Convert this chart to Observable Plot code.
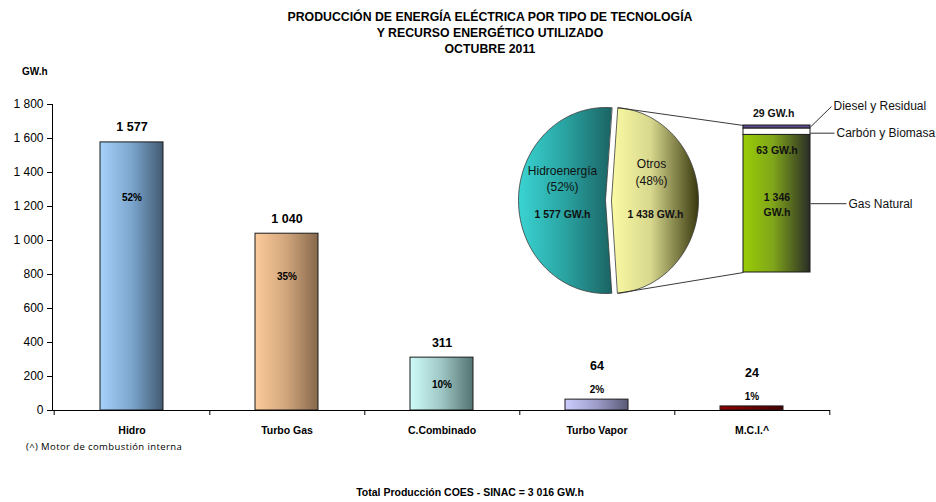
<!DOCTYPE html>
<html><head><meta charset="utf-8">
<script src="https://cdn.jsdelivr.net/npm/d3@7"></script>
<script src="https://cdn.jsdelivr.net/npm/@observablehq/plot@0.6"></script>
<style>
body{margin:0;background:#fff;font-family:"Liberation Sans",Arial,sans-serif;color:#000;}
#wrap{position:relative;width:936px;height:502px;overflow:hidden;background:#fff;}
.abs{position:absolute;white-space:nowrap;}
#wrap > svg{position:absolute;left:0;top:0;}
</style></head><body>
<div id="wrap">
<svg id="defs" width="0" height="0" style="position:absolute;left:0;top:0">
<defs>
<linearGradient id="g0" x1="0" x2="1" y1="0" y2="0"><stop offset="0" stop-color="#a6d1fa"/><stop offset="0.5" stop-color="#7ca6ce"/><stop offset="1" stop-color="#425a72"/></linearGradient>
<linearGradient id="g1" x1="0" x2="1" y1="0" y2="0"><stop offset="0" stop-color="#fdcb9b"/><stop offset="0.5" stop-color="#d1a57c"/><stop offset="1" stop-color="#86684c"/></linearGradient>
<linearGradient id="g2" x1="0" x2="1" y1="0" y2="0"><stop offset="0" stop-color="#cdfcf9"/><stop offset="0.5" stop-color="#9ec6c4"/><stop offset="1" stop-color="#537472"/></linearGradient>
<linearGradient id="g3" x1="0" x2="1" y1="0" y2="0"><stop offset="0" stop-color="#cdcdfd"/><stop offset="0.5" stop-color="#9d9dca"/><stop offset="1" stop-color="#5a5a76"/></linearGradient>
<linearGradient id="g4" x1="0" x2="1" y1="0" y2="0"><stop offset="0" stop-color="#8e0000"/><stop offset="1" stop-color="#480000"/></linearGradient>
<linearGradient id="gH" x1="0" x2="1" y1="0" y2="0"><stop offset="0" stop-color="#3ad4d2"/><stop offset="0.5" stop-color="#29a3a1"/><stop offset="1" stop-color="#1b6464"/></linearGradient>
<linearGradient id="gO" x1="0" x2="1" y1="0" y2="0"><stop offset="0" stop-color="#fbfba4"/><stop offset="0.45" stop-color="#d8d88e"/><stop offset="1" stop-color="#38380e"/></linearGradient>
<linearGradient id="gG" x1="0" x2="1" y1="0" y2="0"><stop offset="0" stop-color="#9acd05"/><stop offset="0.45" stop-color="#7fa51a"/><stop offset="1" stop-color="#2a2d26"/></linearGradient>
</defs></svg>
<div class="abs" style="left:0;width:980px;top:9px;text-align:center;font-weight:bold;font-size:12.3px;line-height:16px">PRODUCCIÓN DE ENERGÍA ELÉCTRICA POR TIPO DE TECNOLOGÍA<br>Y RECURSO ENERGÉTICO UTILIZADO<br>OCTUBRE 2011</div>
<div class="abs" style="left:22px;top:66px;font-weight:bold;font-size:10px">GW.h</div>
<div class="abs" style="left:26px;top:440px;font-family:'Open Sans',sans-serif;font-size:9.5px;letter-spacing:0.4px">(^) Motor de combustión interna</div>
<div class="abs" style="left:0;width:940px;top:486px;text-align:center;font-weight:bold;font-size:10.5px">Total Producción COES - SINAC = 3 016 GW.h</div>
</div>
<script>
// ---- data ----
const categories = ["Hidro", "Turbo Gas", "C.Combinado", "Turbo Vapor", "M.C.I.^"];
const production = [1577, 1040, 311, 64, 24];
const shares = ["52%", "35%", "10%", "2%", "1%"];
const yTicks = [0, 200, 400, 600, 800, 1000, 1200, 1400, 1600, 1800];
const pieNames = ["Hidroenergía", "Otros"];
const pieValues = [1577, 1438];
const pieShares = ["(52%)", "(48%)"];
const pieValueLabels = ["1 577 GW.h", "1 438 GW.h"];
const otrosSources = ["Gas Natural", "Carbón y Biomasa", "Diesel y Residual"];
const otrosValues = [1346, 63, 29];
const otrosValueLabels = ["1 346\nGW.h", "63 GW.h", "29 GW.h"];

// ---- helpers ----
const fmt = d3.formatLocale({decimal: ",", thousands: " ", grouping: [3], currency: ["", ""]}).format(",");
const FONT = '"Liberation Sans", Arial, sans-serif';
const W = 936, H = 502;
const wrap = document.getElementById("wrap");

// ---- main bar chart ----
const mL = 52, mR = 106, mT = 104, mB = 92;
const step = (W - mL - mR) / categories.length;
const bars = categories.map((c, i) => ({cat: c, value: production[i], share: shares[i], grad: `url(#g${i})`}));
const unitPerPx = 1800 / (H - mT - mB);
const tickRows = [{cat: categories[0], dx: -step / 2}, ...categories.map(c => ({cat: c, dx: step / 2}))];

const main = Plot.plot({
  width: W, height: H, marginLeft: mL, marginRight: mR, marginTop: mT, marginBottom: mB,
  style: {fontFamily: FONT, fontSize: "12px", color: "#000", background: "transparent", overflow: "visible"},
  x: {domain: categories, paddingInner: 0.595, paddingOuter: 0.2975, axis: null},
  y: {domain: [0, 1800], ticks: yTicks, tickFormat: fmt, line: true, label: null, tickSize: 5, tickPadding: 4},
  color: {type: "identity"},
  marks: [
    Plot.barY(bars, {x: "cat", y: "value", fill: "grad", stroke: "#1a1a1a", strokeWidth: 1}),
    Plot.ruleY([0], {stroke: "#000"}),
    ...tickRows.map(t => Plot.ruleX([t.cat], {x: d => d, dx: t.dx, y1: 0, y2: -5 * unitPerPx, stroke: "#000"})),
    Plot.text(bars, {x: "cat", y: d => d.value < 100 ? d.value + 110 : d.value, dy: -15, text: d => fmt(d.value), fontWeight: "bold", fontSize: 12.5}),
    Plot.text(bars, {x: "cat", y: d => d.value >= 100 ? d.value * 0.87 - 118 : d.value + 55, text: "share", fontWeight: "bold", fontSize: 10}),
    Plot.text(categories, {x: d => d, y: 0, dy: 20, text: d => d, fontWeight: "bold", fontSize: 10.5})
  ]
});
wrap.appendChild(main);

// ---- pie (Hidroenergía vs Otros) ----
const cx = 605, cy = 200, rx = 87, ry = 93, explode = 6;
const pieTotal = d3.sum(pieValues);
const otrosSpan = pieValues[1] / pieTotal * 2 * Math.PI;
const a0 = Math.PI / 2 - otrosSpan / 2;
const slices = [
  {id: 0, start: a0 + otrosSpan, end: a0 + 2 * Math.PI, dx: 0, fill: "url(#gH)"},
  {id: 1, start: a0, end: a0 + otrosSpan, dx: explode, fill: "url(#gO)"}
];
const pieRows = [];
for (const s of slices) {
  const ox = cx + s.dx;
  pieRows.push({id: s.id, fill: s.fill, x: ox, y: cy});
  const n = 120;
  for (let i = 0; i <= n; i++) {
    const a = s.start + (s.end - s.start) * i / n;
    pieRows.push({id: s.id, fill: s.fill, x: ox + rx * Math.sin(a), y: cy - ry * Math.cos(a)});
  }
}
// stacked bar frame (pixels)
const bL = 743, bR = 810, bTop = 125, bBot = 272;
const oTop = [cx + explode + rx * Math.sin(a0), cy - ry * Math.cos(a0)];
const oBot = [cx + explode + rx * Math.sin(a0 + otrosSpan), cy - ry * Math.cos(a0 + otrosSpan)];
const connectors = [
  {x1: oTop[0], y1: oTop[1], x2: bL, y2: bTop},
  {x1: oBot[0], y1: oBot[1], x2: bL, y2: bBot}
];
const pieTextNormal = [
  {x: cx - 43, y: cy - 29, t: pieNames[0]},
  {x: cx - 43, y: cy - 13, t: pieShares[0]},
  {x: cx + 46, y: cy - 36, t: pieNames[1]},
  {x: cx + 46, y: cy - 19, t: pieShares[1]}
];
const pieTextBold = [
  {x: cx - 43, y: cy + 14, t: pieValueLabels[0]},
  {x: cx + 50, y: cy + 14, t: pieValueLabels[1]}
];
const pie = Plot.plot({
  width: W, height: H, margin: 0,
  style: {fontFamily: FONT, fontSize: "12px", color: "#000", background: "transparent", overflow: "visible"},
  x: {domain: [0, W], range: [0, W], axis: null},
  y: {domain: [0, H], range: [0, H], axis: null},
  color: {type: "identity"},
  marks: [
    Plot.line(pieRows, {x: "x", y: "y", z: "id", fill: "fill", stroke: "#3a3a3a", strokeWidth: 0.8, curve: "linear-closed"}),
    Plot.link(connectors, {x1: "x1", y1: "y1", x2: "x2", y2: "y2", stroke: "#222", strokeWidth: 0.9}),
    Plot.text(pieTextNormal, {x: "x", y: "y", text: "t", fontSize: 12, fill: "#111"}),
    Plot.text(pieTextBold, {x: "x", y: "y", text: "t", fontWeight: "bold", fontSize: 10.5, fill: "#111"})
  ]
});
wrap.appendChild(pie);

// ---- stacked bar of "Otros" ----
const otrosTotal = d3.sum(otrosValues);
const kx = 1 / (bR - bL), ky = otrosTotal / (bBot - bTop);
const stackFills = ["url(#gG)", "#ffffff", "#5b4a8c"];
const stackRows = otrosSources.map((s, i) => ({name: s, value: otrosValues[i], fill: stackFills[i]}));
const cum = d3.cumsum(otrosValues);
const leaders = [
  {name: otrosSources[0], x1: 1, y1: otrosValues[0] / 2, x2: 1 + 36 * kx, y2: otrosValues[0] / 2},
  {name: otrosSources[1], x1: 1, y1: cum[0] + otrosValues[1] / 2 - 1.5 * ky, x2: 1 + 24 * kx, y2: cum[0] + otrosValues[1] / 2 - 1.5 * ky},
  {name: otrosSources[2], x1: 1, y1: cum[2] - 1.5 * ky, x2: 1 + 21 * kx, y2: cum[2] + 19 * ky}
];
const stackLabels = [
  {x: 0.5, y: otrosValues[0] / 2, t: otrosValueLabels[0]},
  {x: 0.5, y: cum[0] - 14 * ky, t: otrosValueLabels[1]},
  {x: 0.45, y: cum[2] + 13 * ky, t: otrosValueLabels[2]}
];
const stack = Plot.plot({
  width: W, height: H, margin: 0,
  style: {fontFamily: FONT, fontSize: "12px", color: "#000", background: "transparent", overflow: "visible"},
  x: {domain: [0, 1], range: [bL, bR], axis: null},
  y: {domain: [0, otrosTotal], range: [bBot, bTop], axis: null},
  color: {type: "identity"},
  marks: [
    Plot.rectY(stackRows, {x1: 0, x2: 1, y: "value", fill: "fill", stroke: "#1a1a1a", strokeWidth: 1}),
    Plot.link(leaders, {x1: "x1", y1: "y1", x2: "x2", y2: "y2", stroke: "#333", strokeWidth: 1}),
    Plot.text(leaders, {x: "x2", y: "y2", text: "name", textAnchor: "start", dx: 2, fontSize: 12, fill: "#111"}),
    Plot.text(stackLabels, {x: "x", y: "y", text: "t", fontWeight: "bold", fontSize: 10.5, lineHeight: 1.45, fill: "#111"})
  ]
});
wrap.appendChild(stack);
</script>
</body></html>
